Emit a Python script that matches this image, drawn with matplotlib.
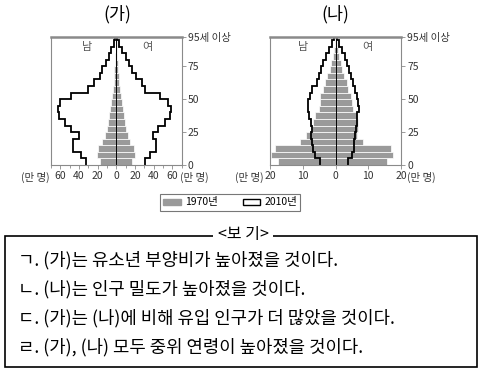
import numpy as np
import matplotlib
matplotlib.use('Agg')
import matplotlib.pyplot as plt
from matplotlib.patches import Rectangle, Patch

plt.rcParams['font.family'] = ['Noto Sans CJK KR', 'DejaVu Sans']

# 5-year age groups: 0-4, 5-9, ..., 95+
age_start = np.arange(0, 100, 5)

# (가) values in 만 명
ga_1970_m = [18, 21, 20, 15.5, 12, 10, 9, 8, 7, 6, 5, 4, 3, 2.5, 2, 1.5, 1.2, 0.8, 0.5, 0.2]
ga_1970_f = [17, 20, 19, 15, 12, 10.5, 9, 8, 7, 6, 5, 4, 3.2, 2.6, 2, 1.6, 1.2, 0.8, 0.5, 0.2]
ga_2010_m = [33, 38, 46, 46, 40, 49, 55, 61, 62, 60, 49, 30, 24, 18, 15, 11, 8, 5.5, 2.5, 1]
ga_2010_f = [31, 36, 42, 43, 39, 45, 52, 57, 59, 55, 47, 31, 27, 21, 17, 14, 10, 6, 3, 1]

# (나) values in 만 명
na_1970_m = [17.5, 19.7, 18.7, 10.9, 9.2, 7.1, 6.9, 6.3, 5.2, 4.9, 4.7, 3.9, 3.2, 2.5, 1.8, 1.3, 0.9, 0.5, 0.3, 0.1]
na_1970_f = [15.7, 17.7, 16.9, 8.5, 6.6, 6.8, 6.8, 6.6, 5.4, 4.9, 4.6, 3.9, 3.4, 2.6, 2.0, 1.5, 1.0, 0.7, 0.4, 0.1]
na_2010_m = [4.8, 6.4, 6.9, 7.1, 7.4, 7.1, 7.5, 8.1, 8.5, 8.5, 8.0, 7.1, 5.8, 5.1, 4.5, 3.9, 3.0, 2.1, 1.2, 0.5]
na_2010_f = [3.8, 5.0, 5.5, 5.5, 6.0, 6.3, 6.6, 6.6, 7.0, 6.8, 6.6, 6.0, 5.3, 4.6, 4.1, 3.6, 2.8, 2.0, 1.1, 0.4]

y_ticks = [0, 25, 50, 75, 97.5]
y_ticklabels = ['0', '25', '50', '75', '95세 이상']

bullets = [
    'ㄱ. (가)는 유소년 부양비가 높아졌을 것이다.',
    'ㄴ. (나)는 인구 밀도가 높아졌을 것이다.',
    'ㄷ. (가)는 (나)에 비해 유입 인구가 더 많았을 것이다.',
    'ㄹ. (가), (나) 모두 중위 연령이 높아졌을 것이다.',
]

W, H = 482, 372
BAR_GRAY = '#9a9a9a'
SPINE = '#8a8a8a'
TXT = '#333333'


def fx(px):
    return px / W


def fy(py):
    return 1 - py / H


def outline(values, sign):
    # step outline going up the age groups
    edges = np.append(age_start, 100)
    xs = sign * np.repeat(values, 2)
    ys = np.repeat(edges, 2)[1:-1]
    return xs, ys


def pyramid(ax, m70, f70, m10, f10, lim):
    ax.barh(age_start, -np.array(m70), height=5, align='edge', color=BAR_GRAY,
            edgecolor='white', linewidth=0.5)
    ax.barh(age_start, f70, height=5, align='edge', color=BAR_GRAY,
            edgecolor='white', linewidth=0.5)
    xs, ys = outline(m10, -1)
    ax.plot(xs, ys, color='black', lw=1.3, solid_joinstyle='miter')
    xs, ys = outline(f10, 1)
    ax.plot(xs, ys, color='black', lw=1.3, solid_joinstyle='miter')
    ax.axvline(0, color='black', lw=0.7)
    ax.set_xlim(-lim, lim)
    ax.set_ylim(0, 97.5)
    ax.yaxis.tick_right()
    ax.set_yticks(y_ticks)
    ax.set_yticklabels(y_ticklabels)
    ax.tick_params(axis='both', labelsize=7.5, colors=TXT, length=3, width=0.6,
                   pad=1.5, color=SPINE)
    for s in ['left', 'right', 'bottom']:
        ax.spines[s].set_color(SPINE)
        ax.spines[s].set_linewidth(0.8)
    ax.spines['top'].set_color(SPINE)
    ax.spines['top'].set_linewidth(1.8)


fig = plt.figure(figsize=(W / 100, H / 100), dpi=100)

ax1 = fig.add_axes([fx(51), fy(165), fx(130.7), 128.3 / H])
pyramid(ax1, ga_1970_m, ga_1970_f, ga_2010_m, ga_2010_f, 70)
ax1.set_xticks([-60, -40, -20, 0, 20, 40, 60])
ax1.set_xticklabels(['60', '40', '20', '0', '20', '40', '60'])
ax1.set_xticks(np.arange(-70, 71, 10), minor=True)
ax1.tick_params(axis='x', which='minor', length=2.5, color=SPINE, width=0.6)

ax2 = fig.add_axes([fx(270.3), fy(165), fx(130.7), 128.3 / H])
pyramid(ax2, na_1970_m, na_1970_f, na_2010_m, na_2010_f, 20)
ax2.set_xticks([-20, -10, 0, 10, 20])
ax2.set_xticklabels(['20', '10', '0', '10', '20'])

# titles and sex labels
fig.text(fx(117), fy(14), '(가)', ha='center', va='center', fontsize=12.5, fontweight='light')
fig.text(fx(335), fy(14), '(나)', ha='center', va='center', fontsize=12.5, fontweight='light')
for x, s in [(87, '남'), (147, '여'), (303, '남'), (367, '여')]:
    fig.text(fx(x), fy(47), s, ha='center', va='center', fontsize=8, color='#555555')

# unit labels
unit = '(만 명)'
fig.text(fx(50), fy(177), unit, ha='right', va='center', fontsize=7.5, color=TXT)
fig.text(fx(180), fy(177), unit, ha='left', va='center', fontsize=7.5, color=TXT)
fig.text(fx(264), fy(177), unit, ha='right', va='center', fontsize=7.5, color=TXT)
fig.text(fx(407), fy(177), unit, ha='left', va='center', fontsize=7.5, color=TXT)

# legend
handles = [Patch(facecolor=BAR_GRAY, edgecolor=BAR_GRAY),
           Patch(facecolor='white', edgecolor='black', linewidth=1.0)]
leg = fig.legend(handles, ['1970년', '2010년'], loc='center',
                 bbox_to_anchor=(fx(230), fy(202.5)), ncol=2, fontsize=7.5,
                 frameon=True, fancybox=False, edgecolor='#555555',
                 handlelength=1.7, handleheight=0.6, columnspacing=2.4,
                 borderpad=0.3, handletextpad=0.4)
leg.get_frame().set_linewidth(0.8)

# <보 기> box
fig.add_artist(Rectangle((fx(5), fy(367)), fx(472), (367 - 236) / H,
                         transform=fig.transFigure, fill=False,
                         edgecolor='black', linewidth=1.2))
fig.text(fx(243), fy(235), '<보 기>', ha='center', va='center', fontsize=11.5,
         fontweight='light', bbox=dict(facecolor='white', edgecolor='none', pad=3))
for i, line in enumerate(bullets):
    fig.text(fx(18), fy(260 + 29 * i), line, ha='left', va='center',
             fontsize=12.8, fontweight='light')

fig.savefig('out.png', dpi=100)
